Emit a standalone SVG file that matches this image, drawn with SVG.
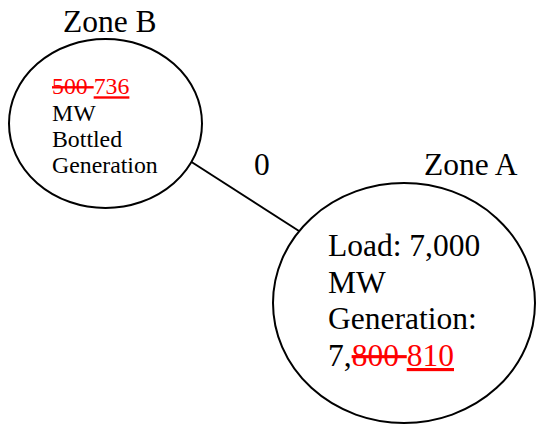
<svg xmlns="http://www.w3.org/2000/svg" width="536" height="424" viewBox="0 0 536 424">
<style>
text{font-family:"Liberation Serif","Times New Roman",serif;fill:#000}
.big{font-size:31.5px}
.small{font-size:23.8px}
.shape{fill:#fff;stroke:#000;stroke-width:2}
.del{fill:#f00;text-decoration:line-through}
.ins{fill:#f00;text-decoration:underline}
</style>
<rect width="536" height="424" fill="#fff"/>
<g id="connectors">
<line x1="190" y1="161" x2="299" y2="231" stroke="#000" stroke-width="2"/>
<text class="big" x="254" y="175">0</text>
</g>
<g id="zoneB">
<ellipse class="shape" cx="105.5" cy="123.5" rx="96.5" ry="84.5"/>
<text class="big" x="63" y="32">Zone B</text>
<text class="small" x="52"><tspan x="52" y="94.3"><tspan class="del">500 </tspan><tspan class="ins">736</tspan></tspan><tspan x="52" y="120.6">MW</tspan><tspan x="52" y="146.9">Bottled</tspan><tspan x="52" y="173.2">Generation</tspan></text>
</g>
<g id="zoneA">
<ellipse class="shape" cx="404" cy="303" rx="131" ry="120"/>
<text class="big" x="424" y="175">Zone A</text>
<text class="big"><tspan x="328" y="256">Load: 7,000</tspan><tspan x="328" y="292.7">MW</tspan><tspan x="328" y="329.3">Generation:</tspan><tspan x="328" y="366">7,<tspan class="del">800 </tspan><tspan class="ins">810</tspan></tspan></text>
</g>
</svg>
